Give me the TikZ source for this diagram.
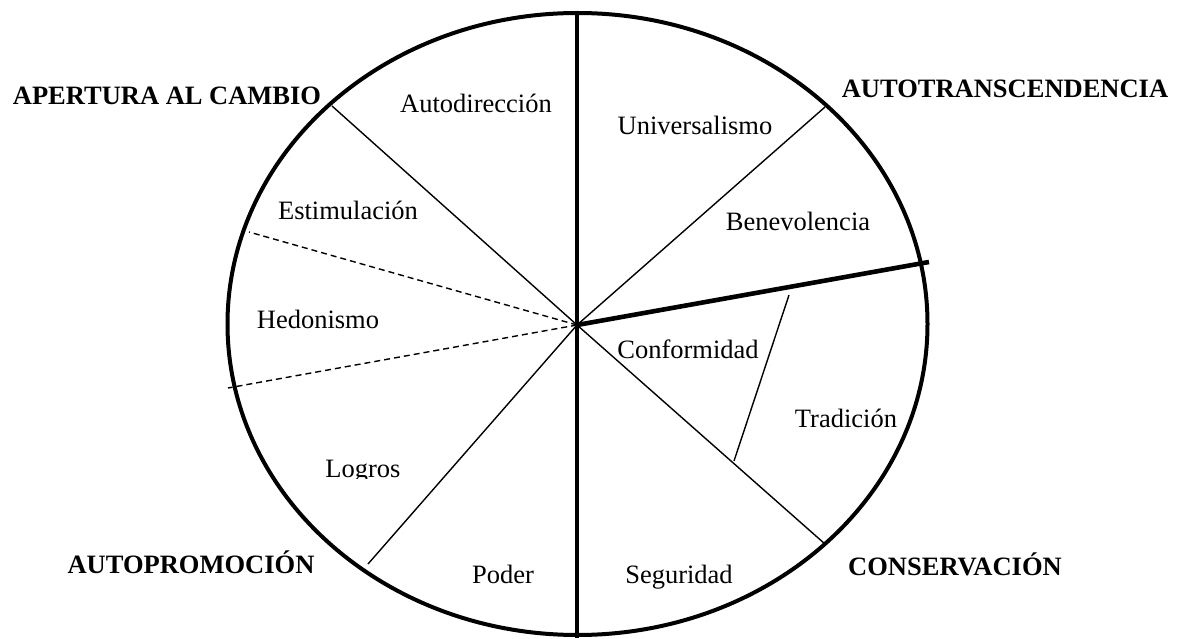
\documentclass[tikz,border=0pt]{standalone}
\usepackage{fontspec}
\setmainfont{Liberation Serif}
\usetikzlibrary{positioning}

\begin{document}
\begin{tikzpicture}[x=1pt,y=1pt,yscale=-1,xscale=1,
  rimline/.style={line width=4pt},
  axisline/.style={line width=4.6pt},
  thinline/.style={line width=1.4pt},
  dashline/.style={line width=1.4pt,dash pattern=on 6pt off 4pt},
  valuelabel/.style={anchor=base,font=\fontsize{26.5}{30}\selectfont},
  grouplabel/.style={anchor=base,font=\fontsize{26.5}{30}\selectfont\bfseries}]
%set diagram frame to the reference size
\useasboundingbox (0,0) rectangle (1179,639);

% Points
\coordinate (c) at (577,325);
\coordinate (top) at (577,11);
\coordinate (bot) at (577,638);
\coordinate (east) at (929,262);
\coordinate (nw) at (332,106);
\coordinate (ne) at (825,107);
\coordinate (sw) at (368,564);
\coordinate (se) at (825,544);
\coordinate (dnorth) at (249,232);
\coordinate (dsouth) at (228,388);
\coordinate (trad1) at (789,295);
\coordinate (trad2) at (734,461);

%Shape: Ellipse
\draw [rimline] (577.5,324) ellipse [x radius=350,y radius=311];

%Shape: thin dividers
\draw [thinline] (c) -- (nw);
\draw [thinline] (c) -- (ne);
\draw [thinline] (c) -- (sw);
\draw [thinline] (c) -- (se);
\draw [thinline] (trad1) -- (trad2);
%Shape: dashed dividers
\draw [dashline] (c) -- (dnorth);
\draw [dashline] (c) -- (dsouth);
%Shape: thick axes
\draw [axisline] (top) -- (bot);
\draw [axisline] (c) -- (east);

% Text Node
\node [valuelabel] (autodir) at (476,113) {Autodirección};
% Text Node
\node [valuelabel] (univ) at (695,135) {Universalismo};
% Text Node
\node [valuelabel] (benev) at (798,231) {Benevolencia};
% Text Node
\node [valuelabel] (estim) at (348,220) {Estimulación};
% Text Node
\node [valuelabel] (hedon) at (318,328) {Hedonismo};
% Text Node
\node [valuelabel] (conf) at (688,358) {Conformidad};
% Text Node
\node [valuelabel] (trad) at (846,427) {Tradición};
% Text Node
\begin{scope}
\clip (300,440) rectangle (420,478);
\node [valuelabel] (logros) at (363,477) {Logros};
\end{scope}
% Text Node
\node [valuelabel] (poder) at (503,583) {Poder};
% Text Node
\node [valuelabel] (segur) at (679,583) {Seguridad};

% Text Node
\node [grouplabel] (apertura) at (167,105) {APERTURA AL CAMBIO};
% Text Node
\node [grouplabel] (autotrans) at (1005,98) {AUTOTRANSCENDENCIA};
% Text Node
\node [grouplabel] (autoprom) at (191,573) {AUTOPROMOCIÓN};
% Text Node
\node [grouplabel] (conserv) at (955,575) {CONSERVACIÓN};

\end{tikzpicture}
\end{document}
